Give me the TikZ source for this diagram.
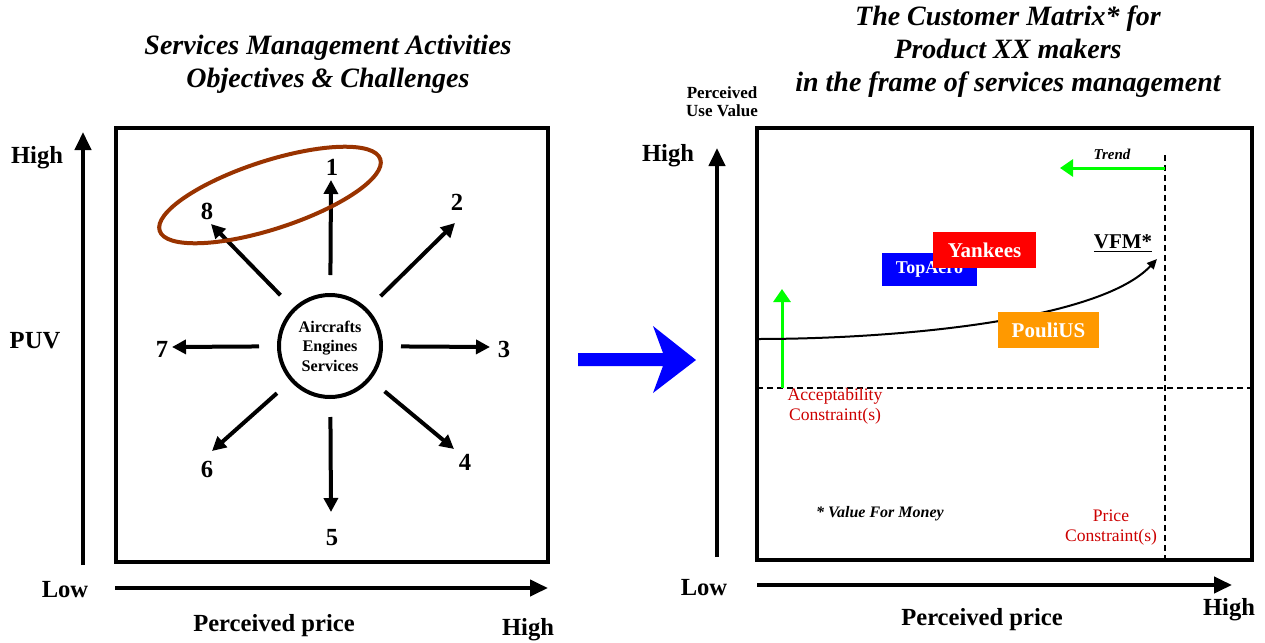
\documentclass[tikz,border=0pt]{standalone}
\usepackage{fontspec}
\setmainfont{Liberation Serif}
\usetikzlibrary{arrows.meta}

\definecolor{rimbrown}{HTML}{993300}
\definecolor{trendgreen}{HTML}{00FF00}
\definecolor{noteRed}{HTML}{CC0000}
\definecolor{pouliOrange}{HTML}{FF9900}

\begin{document}
\begin{tikzpicture}[x=0.5pt,y=-0.5pt,
    axis/.style={line width=2pt,-{Triangle[length=9pt,width=8pt]}},
    frame/.style={line width=2pt},
    spoke/.style={line width=2pt,-{Triangle[length=7pt,width=7pt]},shorten <=9pt},
    greenarr/.style={trendgreen,line width=1.5pt,-{Triangle[length=6.5pt,width=8.5pt]}},
    bigtxt/.style={font=\fontsize{12.3}{14}\selectfont\bfseries},
    title/.style={align=center,font=\fontsize{14}{16.5}\bfseries\itshape\selectfont},
    note/.style={align=center,text=noteRed,font=\fontsize{8.8}{10}\selectfont},
    maker/.style={text=white,font=\bfseries,inner sep=0pt}]
\useasboundingbox (0,0) rectangle (1265,643);

% Left panel: frame and axes
\draw[frame] (116,128) rectangle (548,562);
\coordinate (lyo) at (83,565); \coordinate (lyt) at (83,132);
\coordinate (lxo) at (115,588); \coordinate (lxt) at (548,588);
\draw[axis] (lyo) -- (lyt);
\draw[axis] (lxo) -- (lxt);
\node[title] (ltitle) at (328,64) {Services Management Activities\\Objectives \& Challenges};
\node[bigtxt] (lhigh) at (37,158) {High};
\node[bigtxt] (lpuv) at (35,341) {PUV};
\node[bigtxt] (llow) at (65,590) {Low};
\node[bigtxt] (lprice) at (274,626) {Perceived price};
\node[bigtxt] (lhighx) at (528,630) {High};

% Hub and its eight objectives
\node[draw,circle,line width=2pt,minimum size=51pt,inner sep=0pt,align=center,
      font=\fontsize{8.1}{9.7}\selectfont\bfseries] (hub) at (330,346) {Aircrafts\\Engines\\Services};
\foreach \n/\tx/\ty/\lx/\ly in {1/331/180/332/167, 2/455/223/457/202, 3/490/347/504/349,
    4/454/449/465/462, 5/331/512/332/538, 6/212/451/207/469, 7/172/347/162/349, 8/211/224/207/211}
{
  \coordinate (t\n) at (\tx,\ty);
  \draw[spoke] (hub) -- (t\n);
  \node[bigtxt] (n\n) at (\lx,\ly) {\n};
}
\draw[rimbrown,line width=2pt,rotate around={18:(270,195)}] (270,195) ellipse [x radius=116,y radius=34];

% Transition arrow
\fill[blue] (578,353) -- (663,353) -- (653,326) -- (696,360) -- (653,393) -- (663,366) -- (578,366) -- cycle;

% Right panel: frame and axes
\draw[frame] (757,128) rectangle (1252,560);
\coordinate (ryo) at (717,557); \coordinate (ryt) at (717,148);
\coordinate (rxo) at (757,585); \coordinate (rxt) at (1232,585);
\draw[axis] (ryo) -- (ryt);
\draw[axis] (rxo) -- (rxt);
\node[title] (rtitle) at (1008,52) {The Customer Matrix* for\\Product XX makers\\in the frame of services management};
\node[align=center,font=\fontsize{8.5}{9}\selectfont\bfseries] (ruv) at (722,102) {Perceived\\Use Value};
\node[bigtxt] (rhigh) at (668,156) {High};
\node[bigtxt] (rlow) at (704,588) {Low};
\node[bigtxt] (rprice) at (982,620) {Perceived price};
\node[bigtxt] (rhighx) at (1229,610) {High};

% Constraints
\coordinate (accl) at (757,388); \coordinate (accr) at (1252,388);
\coordinate (prt) at (1165,155); \coordinate (prb) at (1165,560);
\draw[line width=1pt,dash pattern=on 3pt off 2pt] (accl) -- (accr);
\draw[line width=1pt,dash pattern=on 3pt off 2pt] (prt) -- (prb);
\node[note] (acc) at (835,406) {Acceptability\\Constraint(s)};
\node[note] (pcon) at (1111,528) {Price\\Constraint(s)};

% Trends
\coordinate (trs) at (1165,168); \coordinate (tre) at (1060,168);
\draw[greenarr] (trs) -- (tre);
\node[font=\fontsize{7.5}{9}\bfseries\itshape\selectfont] (trend) at (1112,154) {Trend};
\coordinate (ups) at (782,388); \coordinate (upe) at (782,289);
\draw[greenarr] (ups) -- (upe);

% Value for money curve
\coordinate (vs) at (757,339); \coordinate (ve) at (1157,259);
\draw[line width=1pt,-{Triangle[length=5pt,width=4.5pt]}] (vs) .. controls (900,339) and (1100,320) .. (ve);
\node[font=\fontsize{10.5}{12}\selectfont\bfseries] (vfm) at (1123,244) {\underline{VFM*}};
\node[font=\fontsize{8}{10}\bfseries\itshape\selectfont] (vfmnote) at (880,514) {* Value For Money};

% Makers
\node[maker,fill=blue,minimum width=47.5pt,minimum height=16.5pt,font=\fontsize{9}{10}\selectfont\bfseries] (topaero) at (929.5,269.5) {TopAero};
\node[maker,fill=red,minimum width=51.5pt,minimum height=18pt,font=\fontsize{10.5}{12}\selectfont\bfseries] (yankees) at (984.5,250) {Yankees};
\node[maker,fill=pouliOrange,minimum width=50.5pt,minimum height=18pt,font=\fontsize{10.5}{12}\selectfont\bfseries] (poulius) at (1048.5,330) {PouliUS};
\end{tikzpicture}
\end{document}
